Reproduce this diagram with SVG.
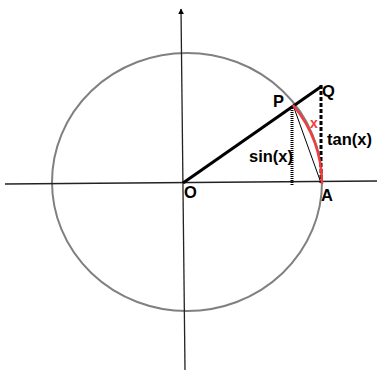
<svg xmlns="http://www.w3.org/2000/svg" width="378" height="383" viewBox="0 0 378 383">
<style>
.lbl{font-family:"Liberation Sans",Arial,sans-serif;font-weight:bold;font-size:16.5px;fill:#000}
.axis{stroke:#222;stroke-width:1.3;fill:none}
</style>
<defs>
<marker id="arr" viewBox="0 0 10 10" refX="9" refY="5" markerWidth="6" markerHeight="8" markerUnits="userSpaceOnUse" orient="auto">
<path d="M0,0 L10,5 L0,10 z" fill="#000"/>
</marker>
</defs>
<rect width="378" height="383" fill="#fff"/>
<g id="circle">
<ellipse cx="187" cy="182" rx="135" ry="129" fill="none" stroke="#808080" stroke-width="2"/>
</g>
<g id="connectors">
<line class="axis" x1="5" y1="184" x2="377" y2="181"/>
<line class="axis" x1="185" y1="370" x2="181" y2="9" marker-end="url(#arr)"/>
<line x1="183" y1="183" x2="322" y2="86" stroke="#000" stroke-width="3"/>
<line x1="293" y1="105" x2="321" y2="183" stroke="#000" stroke-width="1"/>
<line x1="292" y1="106" x2="292" y2="185" stroke="#000" stroke-width="3" stroke-dasharray="1,1"/>
<line x1="321" y1="85" x2="321" y2="183" stroke="#000" stroke-width="3" stroke-dasharray="4,2"/>
<path d="M293,105 A135,129 0 0 1 322,184" fill="none" stroke="#f03c3c" stroke-width="2.5"/>
</g>
<g id="labels">
<text class="lbl" x="273" y="107">P</text>
<text class="lbl" x="322" y="97">Q</text>
<text class="lbl" x="327" y="145">tan(x)</text>
<text class="lbl" x="249" y="162">sin(x)</text>
<text class="lbl" x="321" y="201">A</text>
<text class="lbl" x="184" y="198">O</text>
<text x="310" y="128" font-family="Liberation Sans,Arial,sans-serif" font-weight="bold" font-size="14" fill="#f03c3c">x</text>
</g>
</svg>
